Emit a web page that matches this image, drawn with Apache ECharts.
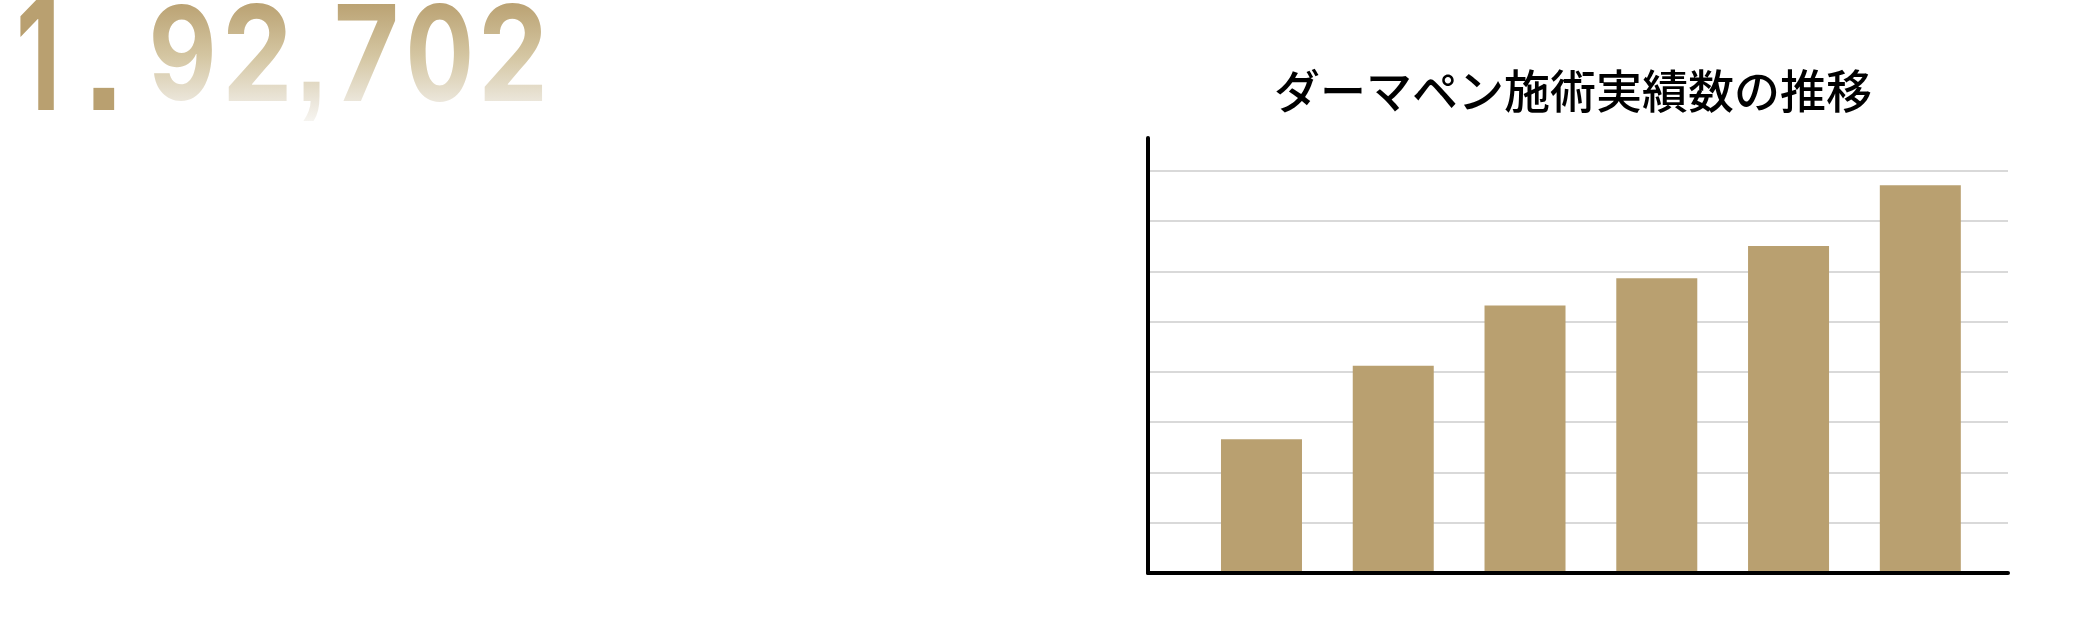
<!DOCTYPE html>
<html><head><meta charset="utf-8">
<script src="https://cdn.jsdelivr.net/npm/echarts@6/dist/echarts.min.js"></script>
<style>
html,body{margin:0;padding:0;background:#fff;}
#wrap{position:relative;width:2076px;height:638px;overflow:hidden;background:#fff;}
#chart{position:absolute;left:0;top:0;width:2076px;height:638px;}
#num{position:absolute;left:0;top:0;}
</style></head><body>
<div id="wrap"><div id="chart"></div>
<svg id="num" width="620" height="140" xmlns="http://www.w3.org/2000/svg">
<defs><linearGradient id="fade" gradientUnits="userSpaceOnUse" x1="0" y1="0" x2="0" y2="125">
<stop offset="0" stop-color="#b9a070"/><stop offset="0.45" stop-color="#d4c6a2"/><stop offset="0.82" stop-color="#ece7dc"/><stop offset="1" stop-color="#f8f7f4"/></linearGradient></defs>
<g id="digits"></g>
</svg></div>
<script>
// ---- data ----
const chartTitle = 'ダーマペン施術実績数の推移';
const categories = ['2018', '2019', '2020', '2021', '2022', '2023'];
const values = [2.66, 4.12, 5.32, 5.86, 6.50, 7.71];
const yMin = 0;
const yMax = 8.65;
const yInterval = 1;
const counterText = '1.92,702';

// ---- counter text layout: ink box per character [left, right, top, bottom] ----
const inkBoxes = [
  [20, 54.3, -2, 109.5], [92.3, 114.3, 87.3, 109.5], [152.7, 212.5, 2.5, 101], [227.5, 287, 2.5, 100.7],
  [302.5, 320.5, 81.7, 121.7], [337, 395.5, 3.3, 100.7], [409.5, 469.5, 2.5, 102.3], [483.5, 542.5, 2.5, 100.7]
];
const solidCount = 2;
const svgNS = 'http://www.w3.org/2000/svg';
const g = document.getElementById('digits');
const mctx = document.createElement('canvas').getContext('2d');
counterText.split('').forEach((ch, i) => {
  const [l, r, tp, bt] = inkBoxes[i];
  const fam = /[0-9]/.test(ch) ? 'Inter' : 'Liberation Sans';
  mctx.font = `700 100px ${fam}`;
  const m = mctx.measureText(ch);
  const inkW = m.actualBoundingBoxLeft + m.actualBoundingBoxRight;
  const inkH = m.actualBoundingBoxAscent + m.actualBoundingBoxDescent;
  const fs = 100 * (bt - tp) / inkH;
  const k = fs / 100;
  const sx = (r - l) / (inkW * k);
  const t = document.createElementNS(svgNS, 'text');
  t.setAttribute('x', m.actualBoundingBoxLeft * k);
  t.setAttribute('y', bt - m.actualBoundingBoxDescent * k);
  t.setAttribute('text-anchor', 'start');
  t.setAttribute('font-family', fam);
  t.setAttribute('font-weight', '700');
  t.setAttribute('font-size', fs.toFixed(2));
  t.setAttribute('fill', i < solidCount ? '#b9a070' : 'url(#fade)');
  t.setAttribute('transform', `translate(${l},0) scale(${sx.toFixed(4)},1)`);
  t.textContent = ch;
  g.appendChild(t);
});

// ---- chart ----
const chart = echarts.init(document.getElementById('chart'), null, {renderer: 'canvas'});
const option = {
  animation: false,
  backgroundColor: 'transparent',
  graphic: [{
    type: 'text', left: 1274, top: 68, silent: true,
    style: {
      text: chartTitle, fill: '#000',
      font: '500 46px "Noto Sans CJK JP", sans-serif'
    }
  }],
  grid: [
    {left: 1148, right: 68, top: 138, bottom: 65},
    {left: 1195.6, right: 89.8, top: 138, bottom: 65}
  ],
  xAxis: [
    {gridIndex: 0, type: 'value', min: 0, max: 1, z: 3,
     axisLine: {show: true, onZero: false, lineStyle: {color: '#000', width: 4}},
     axisTick: {show: false}, axisLabel: {show: false}, splitLine: {show: false}},
    {gridIndex: 1, type: 'category', data: categories,
     axisLine: {show: false}, axisTick: {show: false}, axisLabel: {show: false}, splitLine: {show: false}}
  ],
  yAxis: [
    {gridIndex: 0, type: 'value', min: yMin, max: yMax, interval: yInterval,
     axisLine: {show: true, onZero: false, lineStyle: {color: '#000', width: 4}},
     axisTick: {show: false}, axisLabel: {show: false},
     splitLine: {show: true, showMinLine: false, showMaxLine: false, lineStyle: {color: '#d9d9d9', width: 2}}},
    {gridIndex: 1, type: 'value', min: yMin, max: yMax, interval: yInterval, show: false}
  ],
  series: [{
    type: 'bar', xAxisIndex: 1, yAxisIndex: 1, data: values, barWidth: 81,
    itemStyle: {color: '#b9a070'}, silent: true
  }]
};
chart.setOption(option);
</script>
</body></html>
